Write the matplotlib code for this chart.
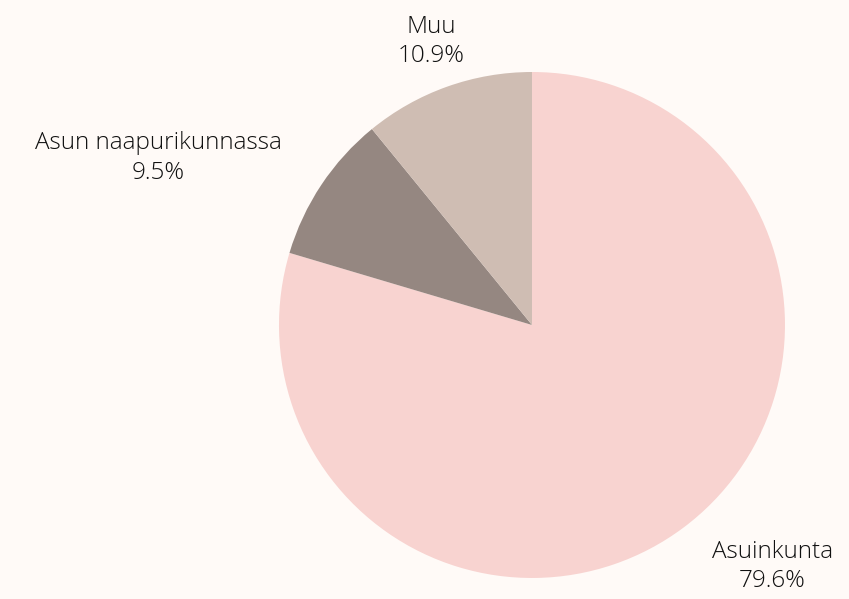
import numpy as np
import matplotlib
matplotlib.use("Agg")
import matplotlib.pyplot as plt

labels = ["Asuinkunta", "Asun naapurikunnassa", "Muu"]
shares = [79.6, 9.5, 10.9]
colors = ["#f8d3d0", "#958781", "#cfbdb3"]

plt.rcParams['font.family'] = ['Open Sans', 'DejaVu Sans']

fig = plt.figure(figsize=(8.49, 5.99), dpi=100, facecolor="#fffaf7")
ax = fig.add_axes([0.3286, 0.0351, 0.596, 0.8447])
ax.set_facecolor("#fffaf7")

texts = ["%s\n%.1f%%" % (l, v) for l, v in zip(labels, shares)]
wedges, lbls = ax.pie(shares, labels=texts, colors=colors, startangle=90,
                      counterclock=False, labeldistance=1.19,
                      textprops=dict(fontsize=17.5, color="#111111",
                                     fontweight="light", linespacing=1.3))

for t in lbls:
    x, y = t.get_position()
    if abs(x) < 0.45:
        t.set_ha("center")
    t.set_multialignment("center")

ax.set_xlim(-1, 1)
ax.set_ylim(-1, 1)
ax.set_aspect("equal")
fig.savefig("out.png", dpi=100, facecolor=fig.get_facecolor())
